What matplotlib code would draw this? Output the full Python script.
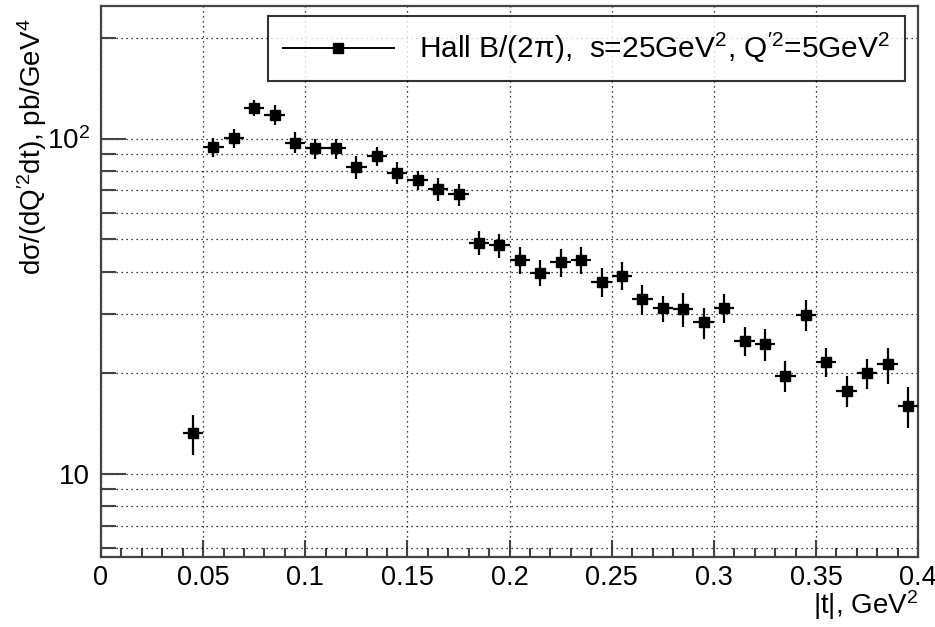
import numpy as np
import matplotlib
matplotlib.use('Agg')
import matplotlib.pyplot as plt
from matplotlib.ticker import FixedLocator, LogLocator, MultipleLocator, NullFormatter
from matplotlib.lines import Line2D

plt.rcParams['font.family'] = ['Liberation Sans', 'DejaVu Sans']
plt.rcParams['mathtext.fontset'] = 'custom'
plt.rcParams['mathtext.rm'] = 'Liberation Sans'
plt.rcParams['mathtext.it'] = 'Liberation Sans:italic'

# |t| bin centres and half widths
t_vals = [0.045, 0.055, 0.065, 0.075, 0.085, 0.095, 0.105, 0.115, 0.125, 0.135,
          0.145, 0.155, 0.165, 0.175, 0.185, 0.195, 0.205, 0.215, 0.225, 0.235,
          0.245, 0.255, 0.265, 0.275, 0.285, 0.295, 0.305, 0.315, 0.325, 0.335,
          0.345, 0.355, 0.365, 0.375, 0.385, 0.395]
t_err = [0.005] * len(t_vals)
# cross section, pb/GeV^4
xsec = [13.2, 94.4, 100.4, 123.7, 117.9, 97.3, 93.4, 93.4, 82.3, 88.6,
        79.0, 75.1, 70.6, 68.1, 48.9, 48.0, 43.4, 39.8, 42.7, 43.5,
        37.4, 39.0, 33.2, 31.2, 31.0, 28.3, 31.3, 24.9, 24.4, 19.6,
        29.8, 21.6, 17.7, 19.95, 21.2, 15.9]
xsec_err = [1.8, 6.0, 6.5, 7.0, 8.0, 7.0, 6.5, 6.5, 6.5, 6.0,
            6.0, 5.0, 5.5, 5.0, 4.0, 4.0, 4.0, 3.5, 4.0, 4.0,
            3.8, 3.7, 3.4, 2.8, 3.6, 3.0, 3.1, 2.5, 2.7, 2.1,
            3.1, 2.2, 1.9, 2.0, 2.6, 2.2]

x_ticks = [0, 0.05, 0.1, 0.15, 0.2, 0.25, 0.3, 0.35, 0.4]
x_ticklabels = ['0', '0.05', '0.1', '0.15', '0.2', '0.25', '0.3', '0.35', '0.4']
y_ticks = [10, 100]
y_ticklabels = ['10', '10$^{2}$']
legend_label = "Hall B/(2\u03c0),  s=25GeV$^{2}$, Q$^{\\prime 2}$=5GeV$^{2}$"

fig = plt.figure(figsize=(9.35, 6.27), dpi=100)
ax = fig.add_axes([0.108, 0.1116, 0.874, 0.8784])

frame_col = '#444444'
ax.errorbar(t_vals, xsec, xerr=t_err, yerr=xsec_err, fmt='s', color='black',
            ms=6.5, elinewidth=1.6, capsize=0, zorder=5)

ax.set_yscale('log')
ax.set_xlim(0, 0.4)
ax.set_ylim(5.65, 248)

ax.xaxis.set_major_locator(FixedLocator(x_ticks))
ax.set_xticklabels(x_ticklabels)
ax.xaxis.set_minor_locator(MultipleLocator(0.01))
ax.yaxis.set_major_locator(FixedLocator(y_ticks))
ax.set_yticklabels(y_ticklabels)
ax.yaxis.set_minor_locator(LogLocator(base=10, subs=np.arange(2, 10)))
ax.yaxis.set_minor_formatter(NullFormatter())

grid_ls = (0, (1, 3))
ax.grid(True, which='both', axis='y', color='black', ls=grid_ls, lw=0.9)
ax.grid(True, which='major', axis='x', color='black', ls=grid_ls, lw=0.9)
ax.set_axisbelow(True)

for sp in ax.spines.values():
    sp.set_color(frame_col)
    sp.set_linewidth(1.6)

ax.tick_params(axis='x', which='major', direction='in', length=12, width=1.5,
               color=frame_col, labelsize=19.5, pad=6)
ax.tick_params(axis='x', which='minor', direction='in', length=6.5, width=1.5,
               color=frame_col)
ax.tick_params(axis='y', which='major', direction='in', length=18, width=1.5,
               color=frame_col, labelsize=20, pad=8)
ax.tick_params(axis='y', which='minor', direction='in', length=11, width=1.5,
               color=frame_col)

ax.set_xlabel('|t|, GeV$^{2}$', fontsize=20, loc='right')
ax.xaxis.set_label_coords(1.0, -0.057)
ax.set_ylabel("d\u03c3/(dQ$^{\\prime 2}$dt), pb/GeV$^{4}$", fontsize=20, loc='top')
ax.yaxis.set_label_coords(-0.064, 0.978)

handle = Line2D([], [], color='black', marker='s', ms=6.5, lw=1.4)
leg = ax.legend([handle], [legend_label], loc='upper right',
                bbox_to_anchor=(0.984, 0.982), fontsize=21.5, frameon=True,
                fancybox=False, handlelength=3.7, handletextpad=0.85,
                borderpad=0.5, borderaxespad=0)
leg.get_frame().set_edgecolor('black')
leg.get_frame().set_linewidth(1.5)

fig.savefig('out.png', dpi=100)
